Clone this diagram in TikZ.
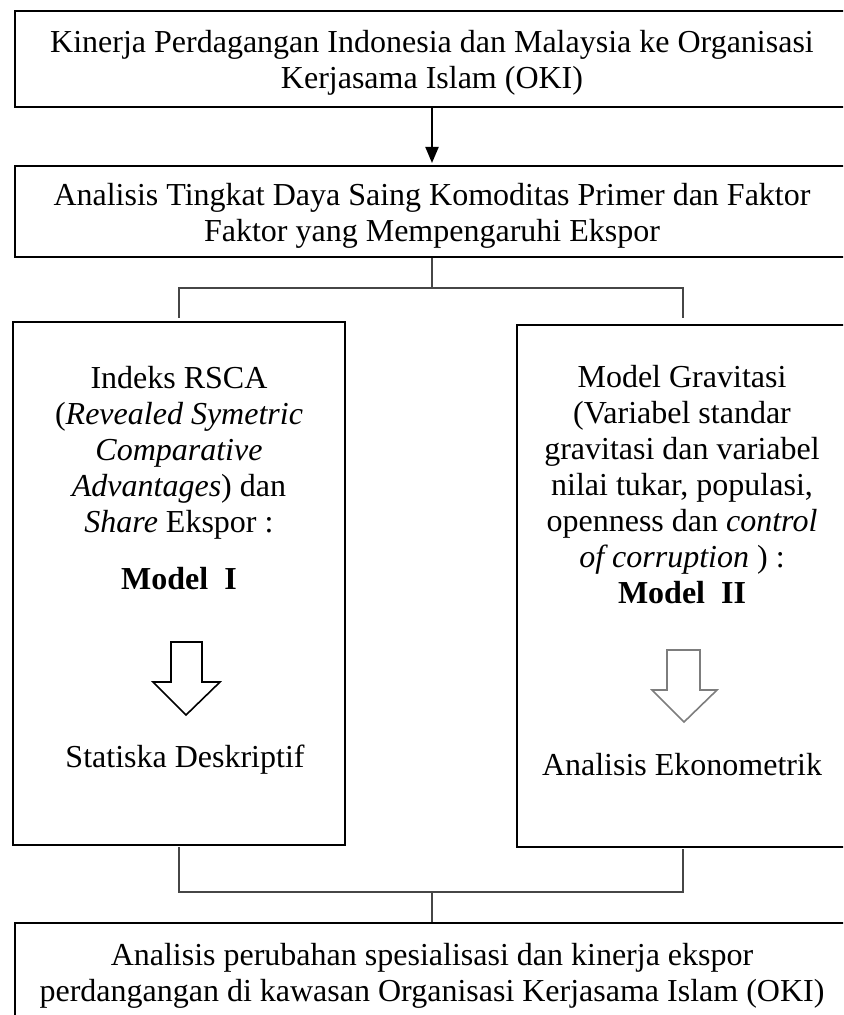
\documentclass[tikz,border=0pt]{standalone}
\usepackage{fontspec}
\setmainfont{Liberation Serif}
\usetikzlibrary{arrows.meta}
\definecolor{connectorgray}{RGB}{70,70,70}
\definecolor{arrowgray}{RGB}{125,125,125}

\begin{document}
\begin{tikzpicture}[x=0.5pt, y=-0.5pt]
    \tikzstyle{box} = [rectangle, draw, line width=1pt, inner sep=0pt]
    \tikzstyle{boxtext} = [inner sep=0pt, align=center, anchor=north, font=\fontsize{16}{18}\selectfont]
    \tikzstyle{connector} = [draw=connectorgray, line width=0.6pt]
    \tikzstyle{flowarrow} = [line width=1pt, -{Triangle[length=8pt, width=6.5pt]}, shorten >=1pt]
    \tikzstyle{hollowarrow} = [draw, line width=0.8pt, fill=white, line join=miter]

    \useasboundingbox (0,0) rectangle (843,1015);
    \clip (0,0) rectangle (843,1015);

    \node[box, minimum width=417pt, minimum height=48pt] (kinerja) at (432,59) {};
    \node[box, minimum width=417pt, minimum height=45.5pt] (analisis) at (432,211.5) {};
    \node[box, minimum width=166pt, minimum height=261.5pt] (rsca) at (179,583.5) {};
    \node[box, minimum width=166pt, minimum height=261pt] (gravitasi) at (683,586) {};
    \node[box, minimum width=417pt, minimum height=56pt] (hasil) at (432,979) {};

    \node[boxtext] (kinerjatext) at (432,30) {Kinerja Perdagangan Indonesia dan Malaysia ke Organisasi\\Kerjasama Islam (OKI)};
    \node[boxtext] (analisistext) at (432,183) {Analisis Tingkat Daya Saing Komoditas Primer dan Faktor\\Faktor yang Mempengaruhi Ekspor};
    \node[boxtext] (rscatext) at (179,366) {Indeks RSCA\\(\textit{Revealed Symetric}\\\textit{Comparative}\\\textit{Advantages}) dan\\\textit{Share} Ekspor :\\[10.5pt]\textbf{Model\ \ I}};
    \node[boxtext] (gravitasitext) at (682,365) {Model Gravitasi\\(Variabel standar\\gravitasi dan variabel\\nilai tukar, populasi,\\openness dan \textit{control}\\\textit{of corruption} ) :\\\textbf{Model\ \ II}};
    \node[boxtext, anchor=base] (rscametode) at (185,767) {Statiska Deskriptif};
    \node[boxtext, anchor=base] (gravitasimetode) at (682,775) {Analisis Ekonometrik};
    \node[boxtext] (hasiltext) at (432,943) {Analisis perubahan spesialisasi dan kinerja ekspor\\perdangangan di kawasan Organisasi Kerjasama Islam (OKI)};

    \draw[hollowarrow] (171,642) -- (202,642) -- (202,682) -- (220,682) -- (186,715) -- (153,682) -- (171,682) -- cycle;
    \draw[hollowarrow, draw=arrowgray] (667,650) -- (700,650) -- (700,690) -- (717,690) -- (684,722) -- (652,690) -- (667,690) -- cycle;

    \coordinate (split) at (432,288);
    \coordinate (merge) at (432,892);

    \draw[flowarrow] (kinerja.south) -- (analisis.north);
    \draw[connector] (analisis.south) -- (split);
    \draw[connector] ([yshift=1.5pt]rsca.north) |- (split) -| ([yshift=3pt]gravitasi.north);
    \draw[connector] ([yshift=-0.5pt]rsca.south) |- (merge) -| ([yshift=-0.5pt]gravitasi.south);
    \draw[connector] (merge) -- (hasil.north);
\end{tikzpicture}
\end{document}
